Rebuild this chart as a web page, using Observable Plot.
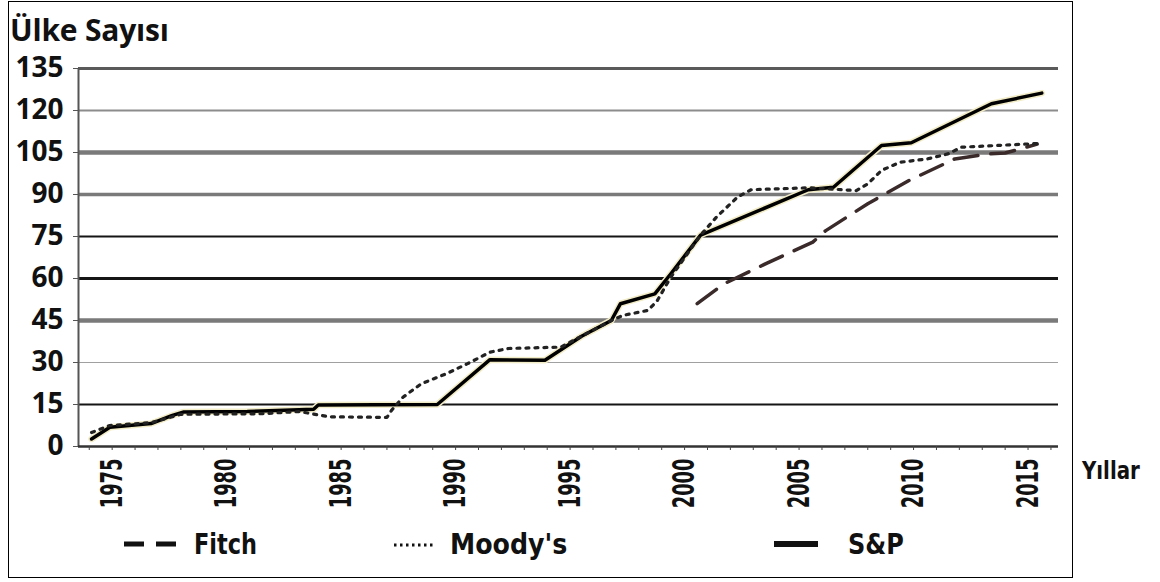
<!DOCTYPE html>
<html>
<head>
<meta charset="utf-8">
<script src="https://cdn.jsdelivr.net/npm/d3@7"></script>
<script src="https://cdn.jsdelivr.net/npm/@observablehq/plot@0.6"></script>
<style>
  body { margin: 0; background: #fff; }
  #wrap { position: relative; width: 1160px; height: 582px; overflow: hidden; background: #fff; }
  #frame { position: absolute; left: 8px; top: 1px; width: 1065px; height: 577px; border: 1.5px solid #000; box-sizing: border-box; }
  #chart { position: absolute; left: 0; top: 0; }
  #title { position: absolute; left: 10px; top: 9px; font: bold 30px "Open Sans", sans-serif; color: #111; letter-spacing: -0.2px; }
  #xlabel { position: absolute; left: 1082px; top: 456px; font: bold 25px "Liberation Sans Narrow", "DejaVu Sans Condensed", sans-serif; color: #111; transform: scaleX(0.88); transform-origin: left center; }
  .leg { position: absolute; top: 524px; height: 40px; display: flex; align-items: center; font: bold 29px "Liberation Sans Narrow", "DejaVu Sans Condensed", sans-serif; color: #111; }
  .leg svg { margin-right: 16px; }
  .leg span { display: inline-block; transform-origin: left center; }
</style>
</head>
<body>
<div id="wrap">
  <div id="frame"></div>
  <div id="chart"></div>
  <div id="title">Ülke Sayısı</div>
  <div id="xlabel">Yıllar</div>
  <div class="leg" style="left:124px"><svg width="54" height="10"><line x1="0" y1="5" x2="54" y2="5" stroke="#111" stroke-width="5" stroke-dasharray="20 12"/></svg><span style="transform:scaleX(0.86)">Fitch</span></div>
  <div class="leg" style="left:394px"><svg width="40" height="10"><line x1="0" y1="6" x2="40" y2="6" stroke="#111" stroke-width="3" stroke-dasharray="2.5 3.5"/></svg><span style="transform:scaleX(0.97)">Moody's</span></div>
  <div class="leg" style="left:774px"><svg width="58" height="10"><line x1="0" y1="5" x2="44" y2="5" stroke="#111" stroke-width="6"/></svg><span style="transform:scaleX(0.92)">S&amp;P</span></div>
</div>
<script>
// ---- data ----
const yTicks = [0, 15, 30, 45, 60, 75, 90, 105, 120, 135];
const xTickYears = [1975, 1980, 1985, 1990, 1995, 2000, 2005, 2010, 2015];

const spYears  = [1974.1, 1974.9, 1976.7, 1977.6, 1978.1, 1980.9, 1983.8, 1984.0, 1989.2, 1991.5, 1993.9, 1995.5, 1996.8, 1997.2, 1998.7, 1999.4, 2000.7, 2005.4, 2006.5, 2008.6, 2009.9, 2013.4, 2015.6];
const spValues = [2.7, 6.9, 8.2, 11, 12.3, 12.5, 13.3, 14.8, 15, 31, 30.8, 39.4, 45, 51, 54.5, 61.7, 75.5, 91.7, 92.6, 107.5, 108.5, 122.4, 126.2];

const moodysYears  = [1974.1, 1974.9, 1976.7, 1978.0, 1981.5, 1983.2, 1983.7, 1984.5, 1987.0, 1987.2, 1987.7, 1988.5, 1989.6, 1990.5, 1991.5, 1992.3, 1994.6, 1995.5, 1996.8, 1997.3, 1998.4, 1998.8, 1999.4, 2000.7, 2001.4, 2002.3, 2002.9, 2005.4, 2007.5, 2008.0, 2008.6, 2009.4, 2010.6, 2011.5, 2012.1, 2015.4];
const moodysValues = [5, 7.5, 8.5, 11.5, 11.7, 12.5, 11.7, 10.6, 10.4, 12.9, 17.6, 22.4, 26, 29.5, 33.7, 35, 35.5, 39.4, 45, 46.8, 48.6, 52, 60.5, 75.5, 82, 89, 91.7, 92.4, 91.4, 93.8, 98.6, 101.5, 102.7, 104.5, 106.9, 108.2];

const fitchYears  = [2000.55, 2001.7, 2003.6, 2005.6, 2006.15, 2008.0, 2009.8, 2011.8, 2013.3, 2014.0, 2015.4];
const fitchValues = [51, 58, 65.5, 73, 77, 86.7, 95, 102.7, 104.5, 104.8, 108];

// ---- build tables ----
const toRows = (xs, ys) => xs.map((x, i) => ({year: x, value: ys[i]}));
const sp = toRows(spYears, spValues);
const moodys = toRows(moodysYears, moodysValues);
const fitch = toRows(fitchYears, fitchValues);

// gridline styles (stroke colour, width) per tick value
const gridStyle = {
  135: ["#5a5a5a", 3], 120: ["#8c8c8c", 2], 105: ["#7a7a7a", 4.5], 90: ["#7a7a7a", 3.5],
  75: ["#151515", 2], 60: ["#151515", 3], 45: ["#7a7a7a", 4.5], 30: ["#a0a0a0", 1.2], 15: ["#151515", 2]
};

const xDomain = [1973.53, 2016.33];
const narrow = '"Liberation Sans Narrow", "DejaVu Sans Condensed", sans-serif';

const chart = Plot.plot({
  width: 1160,
  height: 520,
  marginLeft: 78,
  marginRight: 102,
  marginTop: 68,
  marginBottom: 74,
  style: {background: "transparent", overflow: "visible"},
  x: {domain: xDomain},
  y: {domain: [0, 135]},
  marks: [
    ...yTicks.filter(t => t > 0).map(t => Plot.ruleY([t], {stroke: gridStyle[t][0], strokeWidth: gridStyle[t][1]})),
    Plot.ruleX([xDomain[0]], {y1: 0, y2: 135, stroke: "#555", strokeWidth: 2}),
    Plot.ruleY([0], {stroke: "#333", strokeWidth: 2.5}),
    Plot.axisY({ticks: yTicks, tickSize: 5, tickPadding: 10, stroke: "#555", label: null,
      fontSize: 28, fontWeight: "bold", fontFamily: '"Open Sans", sans-serif', fill: "#111"}),
    Plot.axisX({ticks: d3.range(1974, 2017), tickSize: 4, tickFormat: () => "", stroke: "#444", label: null}),
    Plot.axisX({ticks: xTickYears, tickSize: 0, tickPadding: 12, tickRotate: -90, tickFormat: d => String(d), label: null,
      fontSize: 28, fontWeight: "bold", fontFamily: narrow, fill: "#111"}),
    Plot.line(fitch, {x: "year", y: "value", stroke: "#3a2a2a", strokeWidth: 3.5, strokeDasharray: "24 13"}),
    Plot.line(sp, {x: "year", y: "value", stroke: "#f1ebc6", strokeWidth: 6.5}),
    Plot.line(sp, {x: "year", y: "value", stroke: "#000", strokeWidth: 3.5}),
    Plot.line(moodys, {x: "year", y: "value", stroke: "#222", strokeWidth: 3.2, strokeDasharray: "3 6"})
  ]
});
// condense the rotated year labels along their length (narrow bold look)
d3.select(chart).selectAll("text")
  .filter(function() {
    const t = this.getAttribute("transform") || "";
    const p = this.parentNode && this.parentNode.getAttribute ? (this.parentNode.getAttribute("transform") || "") : "";
    return /^\d{4}$/.test(this.textContent.trim()) && (t.includes("rotate") || p.includes("rotate"));
  })
  .attr("transform", function() {
    const t = this.getAttribute("transform") || "";
    return (t + " scale(0.71, 1.06)").trim();
  });
document.getElementById("chart").appendChild(chart);
</script>
</body>
</html>
